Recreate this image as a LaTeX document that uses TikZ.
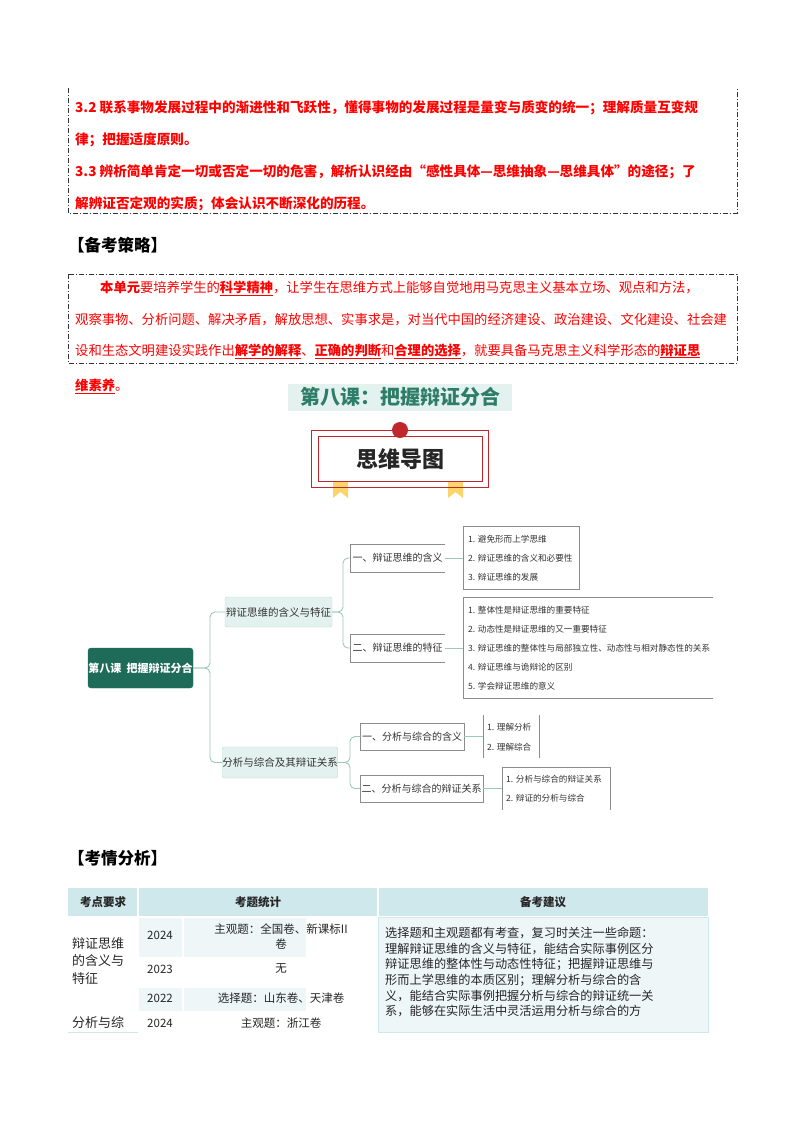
\documentclass[tikz,border=0pt]{standalone}
\usepackage{fontspec}
\setmainfont{Noto Sans CJK SC}
\usetikzlibrary{calc}
\definecolor{teal1}{HTML}{1E6B5A}
\definecolor{tealtxt}{HTML}{2E7D68}
\definecolor{lt}{HTML}{E3F2EE}
\definecolor{ltb}{HTML}{BFDCD3}
\definecolor{conn}{HTML}{9CC7BA}
\definecolor{hdr}{HTML}{CFE8EC}
\definecolor{rowa}{HTML}{EEF6F8}
\definecolor{frame}{HTML}{C0272D}
\definecolor{rib}{HTML}{FBD56B}
\tikzset{
 redtxt/.style={anchor=west,inner sep=0pt,text=red,font=\fontsize{13.6}{14}\selectfont\bfseries},
 bodytxt/.style={anchor=west,inner sep=0pt,text=red,font=\fontsize{13.3}{14}\selectfont},
 lone/.style={draw=ltb,fill=lt,rounded corners=2pt,inner sep=0pt,font=\fontsize{10.5}{12}\selectfont,text=black!80},
 ltwo/.style={inner sep=0pt,font=\fontsize{10}{12}\selectfont,text=black!80},
 item/.style={anchor=west,inner sep=0pt,font=\fontsize{8.6}{10}\selectfont,text=black!80},
 cn/.style={draw=conn,line width=0.9pt,rounded corners=5pt},
 bx/.style={draw=black!45,line width=0.5pt},
 tt/.style={inner sep=0pt,font=\fontsize{11.5}{13}\selectfont,text=black!85},
 dd/.style={draw=black!80,line width=0.8pt,dash pattern=on 5pt off 2pt on 1pt off 2pt}
}
\begin{document}
\begin{tikzpicture}[x=1pt,y=-1pt]
\useasboundingbox[fill=white] (0,0) rectangle (800,1132);
% box 1
\draw[dd] (68,88) -- (68,213) -- (737,213) -- (737,88);
\node[redtxt] (l1) at (75,108) {3.2 联系事物发展过程中的渐进性和飞跃性，懂得事物的发展过程是量变与质变的统一；理解质量互变规};
\node[redtxt] (l2) at (75,140) {律；把握适度原则。};
\node[redtxt] (l3) at (75,172) {3.3 辨析简单肯定一切或否定一切的危害，解析认识经由“感性具体—思维抽象—思维具体”的途径；了};
\node[redtxt] (l4) at (75,204) {解辨证否定观的实质；体会认识不断深化的历程。};
% strategy
\node[anchor=west,inner sep=0pt,font=\fontsize{16.5}{18}\selectfont\bfseries] (h1) at (68,245) {【备考策略】};
\draw[dd] (68,274) rectangle (737,363);
\node[bodytxt] (s1) at (100,288) {\textbf{本单元}要培养学生的\underline{\textbf{科学精神}}，让学生在思维方式上能够自觉地用马克思主义基本立场、观点和方法，};
\node[bodytxt] (s2) at (75,320) {观察事物、分析问题、解决矛盾，解放思想、实事求是，对当代中国的经济建设、政治建设、文化建设、社会建};
\node[bodytxt] (s3) at (75,351) {设和生态文明建设实践作出\underline{\textbf{解学的解释}}、\underline{\textbf{正确的判断}}和\underline{\textbf{合理的选择}}，就要具备马克思主义科学形态的\underline{\textbf{辩证思}}};
\node[bodytxt] (s4) at (75,386) {\underline{\textbf{维素养}}。};
% title
\fill[lt] (288,384) rectangle (512,411);
\node[inner sep=0pt,text=tealtxt,font=\fontsize{20}{22}\selectfont\bfseries] (title) at (400,397) {第八课：把握辩证分合};
\fill[rib] (333,481) -- (348,481) -- (348,498) -- (340.5,492) -- (333,498) -- cycle;
\fill[rib] (448,481) -- (463,481) -- (463,498) -- (455.5,492) -- (448,498) -- cycle;
\draw[frame,line width=0.8pt] (311,430) rectangle (488,487);
\draw[frame,line width=0.6pt] (318,436) rectangle (482,481);
\fill[frame] (400,430) circle (8);
\node[inner sep=0pt,font=\fontsize{22}{24}\selectfont\bfseries,text=black!85] (mm) at (400,459) {思维导图};
% mind map
\node[fill=teal1,draw=teal1,rounded corners=3pt,minimum width=105pt,minimum height=40pt,inner sep=0pt,text=white,font=\fontsize{11}{12}\selectfont\bfseries] (root) at (140.5,668) {第八课\ \ 把握辩证分合};
\node[lone,minimum width=107pt,minimum height=30pt] (A) at (278.5,612) {辩证思维的含义与特征};
\node[lone,minimum width=110pt,minimum height=31pt] (B) at (280,762.5) {分析与综合及其辩证关系};
\draw[cn] (root.east) -- (210,668) |- (A.west);
\draw[cn] (root.east) -- (210,668) |- (B.west);
% level2
\node[ltwo,minimum width=95pt,minimum height=28pt] (A1) at (397.5,558) {一、辩证思维的含义};
\node[ltwo,minimum width=95pt,minimum height=28pt] (A2) at (397.5,648) {二、辩证思维的特征};
\node[ltwo,minimum width=104pt,minimum height=27pt] (B1) at (412,736.5) {一、分析与综合的含义};
\node[ltwo,minimum width=123pt,minimum height=27pt] (B2) at (421.5,788.5) {二、分析与综合的辩证关系};
\draw[bx] (A1.north east) -- (A1.north west) -- (A1.south west) -- (A1.south east);
\draw[bx] (A2.north east) -- (A2.north west) -- (A2.south west) -- (A2.south east);
\draw[bx] (B1.north west) rectangle (B1.south east);
\draw[bx] (B2.north west) rectangle (B2.south east);
\draw[cn] (A.east) -- (343,612) |- (A1.west);
\draw[cn] (A.east) -- (343,612) |- (A2.west);
\draw[cn] (B.east) -- (350,762.5) |- (B1.west);
\draw[cn] (B.east) -- (350,762.5) |- (B2.west);
% level3
\coordinate (C1) at (463,558);
\coordinate (C2) at (463,648);
\coordinate (C3) at (483,736.5);
\coordinate (C4) at (502,788.5);
\draw[bx] (463,526) rectangle (579,589);
\draw[bx] (713,597) -- (463,597) -- (463,698) -- (713,698);
\draw[bx] (483,715) -- (483,758) (539,715) -- (539,758);
\draw[bx] (502,810) -- (502,767) -- (610,767) -- (610,810);
\draw[cn] (A1.east) -- (C1);
\draw[cn] (A2.east) -- (C2);
\draw[cn] (B1.east) -- (C3);
\draw[cn] (B2.east) -- (C4);
\node[item] (i11) at (468,539) {1. 避免形而上学思维};
\node[item] (i12) at (468,558) {2. 辩证思维的含义和必要性};
\node[item] (i13) at (468,577) {3. 辩证思维的发展};
\node[item] (i21) at (468,610) {1. 整体性是辩证思维的重要特征};
\node[item] (i22) at (468,629) {2. 动态性是辩证思维的又一重要特征};
\node[item] (i23) at (468,648) {3. 辩证思维的整体性与局部独立性、动态性与相对静态性的关系};
\node[item] (i24) at (468,667) {4. 辩证思维与诡辩论的区别};
\node[item] (i25) at (468,686) {5. 学会辩证思维的意义};
\node[item] (i31) at (487,727) {1. 理解分析};
\node[item] (i32) at (487,747) {2. 理解综合};
\node[item] (i41) at (506,779) {1. 分析与综合的辩证关系};
\node[item] (i42) at (506,798) {2. 辩证的分析与综合};
% analysis
\node[anchor=west,inner sep=0pt,font=\fontsize{16.5}{18}\selectfont\bfseries] (h2) at (68,858) {【考情分析】};
\fill[hdr] (68,888) rectangle (708,917);
\fill[rowa] (138,917) rectangle (306,958);
\fill[rowa] (138,987) rectangle (306,1012);
\fill[rowa] (378,917) rectangle (708,1032);
\draw[white,line width=1.5pt] (138,888) -- (138,1032) (183,917) -- (183,1032) (378,888) -- (378,1032)
  (138,958) -- (378,958) (138,987) -- (378,987) (68,1012) -- (378,1012) (68,917) -- (708,917);
\draw[hdr,line width=1pt] (378,917) rectangle (708,1032) (68,1032) -- (138,1032);
\node[tt,font=\fontsize{11.5}{13}\selectfont\bfseries] (t1) at (103,902) {考点要求};
\node[tt,font=\fontsize{11.5}{13}\selectfont\bfseries] (t2) at (258,902) {考题统计};
\node[tt,font=\fontsize{11.5}{13}\selectfont\bfseries] (t3) at (543,902) {备考建议};
\node[tt,anchor=north west,align=left,font=\fontsize{13}{17.5}\selectfont] (c1) at (72,937) {辩证思维\\的含义与\\特征};
\node[tt,anchor=west,font=\fontsize{13}{15}\selectfont] (c2) at (72,1023) {分析与综};
\node[tt] (y1) at (160,935) {2024};
\node[tt] (y2) at (160,969) {2023};
\node[tt] (y3) at (160,998) {2022};
\node[tt] (y4) at (160,1023) {2024};
\node[tt,align=center,font=\fontsize{11.5}{15}\selectfont] (q1) at (281,936) {主观题：全国卷、新课标II\\卷};
\node[tt] (q2) at (281,969) {无};
\node[tt] (q3) at (281,998) {选择题：山东卷、天津卷};
\node[tt] (q4) at (281,1023) {主观题：浙江卷};
\node[tt,anchor=north west,align=left,font=\fontsize{12.2}{15.6}\selectfont] (adv) at (385,927) {选择题和主观题都有考查，复习时关注一些命题：\\理解辩证思维的含义与特征，能结合实际事例区分\\辩证思维的整体性与动态性特征；把握辩证思维与\\形而上学思维的本质区别；理解分析与综合的含\\义，能结合实际事例把握分析与综合的辩证统一关\\系，能够在实际生活中灵活运用分析与综合的方};
\end{tikzpicture}
\end{document}
